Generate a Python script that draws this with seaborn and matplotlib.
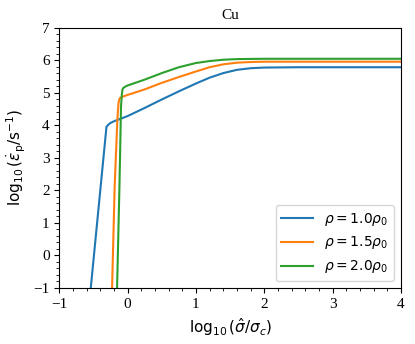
import matplotlib
matplotlib.use("Agg")
import matplotlib.pyplot as plt
import seaborn as sns
import pandas as pd
from matplotlib.ticker import AutoMinorLocator

# data
x_rho10 = [-0.54, -0.31, -0.28, -0.25, -0.20, -0.10, 0.00, 0.25, 0.50, 0.75, 1.00,
           1.20, 1.40, 1.60, 1.80, 2.00, 2.50, 3.00, 4.00]
y_rho10 = [-1.00, 3.95, 4.02, 4.07, 4.12, 4.20, 4.28, 4.53, 4.79, 5.04, 5.28,
           5.46, 5.60, 5.70, 5.75, 5.77, 5.78, 5.78, 5.78]

x_rho15 = [-0.228, -0.19, -0.15, -0.135, -0.125, -0.11, -0.08, 0.00, 0.25, 0.50, 0.75,
           1.00, 1.20, 1.40, 1.60, 1.80, 2.00, 2.50, 4.00]
y_rho15 = [-1.00, 2.13, 4.20, 4.65, 4.78, 4.84, 4.87, 4.93, 5.10, 5.30, 5.48,
           5.65, 5.78, 5.87, 5.92, 5.94, 5.95, 5.95, 5.95]

x_rho20 = [-0.155, -0.12, -0.097, -0.085, -0.075, -0.06, -0.03, 0.00, 0.25, 0.50, 0.75,
           1.00, 1.20, 1.40, 1.60, 2.00, 2.50, 4.00]
y_rho20 = [-1.00, 2.13, 4.58, 4.95, 5.10, 5.15, 5.19, 5.22, 5.40, 5.60, 5.78,
           5.91, 5.97, 6.01, 6.03, 6.04, 6.04, 6.04]

labels = [r"$\rho = 1.0\rho_0$", r"$\rho = 1.5\rho_0$", r"$\rho = 2.0\rho_0$"]
colors = ["#1f77b4", "#ff7f0e", "#2ca02c"]

frames = []
for xs, ys, lab in [(x_rho10, y_rho10, labels[0]), (x_rho15, y_rho15, labels[1]),
                    (x_rho20, y_rho20, labels[2])]:
    frames.append(pd.DataFrame({"x": xs, "y": ys, "series": lab}))
df = pd.concat(frames, ignore_index=True)

serif = "Liberation Serif"

fig = plt.figure(figsize=(4.15, 3.44), dpi=100)
ax = fig.add_axes([0.143, 0.163, 0.823, 0.757])

sns.lineplot(data=df, x="x", y="y", hue="series", hue_order=labels,
             palette=colors, sort=False, estimator=None, ax=ax, linewidth=1.5)

ax.set_xlim(-1, 4)
ax.set_ylim(-1, 7)
ax.set_xticks([-1, 0, 1, 2, 3, 4])
ax.set_yticks([-1, 0, 1, 2, 3, 4, 5, 6, 7])
ax.xaxis.set_minor_locator(AutoMinorLocator())
ax.yaxis.set_minor_locator(AutoMinorLocator())
for lbl in ax.get_xticklabels() + ax.get_yticklabels():
    lbl.set_fontfamily(serif)
    lbl.set_fontsize(11)

ax.set_xlabel(r"$\log_{10}(\hat{\sigma}/\sigma_c)$", fontsize=11)
ax.set_ylabel(r"$\log_{10}(\dot{\varepsilon}_{\rm p}/{\rm s}^{-1})$", fontsize=11)
ax.set_title("Cu", fontfamily=serif, fontsize=11)

ax.legend(loc="lower right", fontsize=10, title=None, handlelength=2.3)

fig.savefig("out.png", dpi=100)
